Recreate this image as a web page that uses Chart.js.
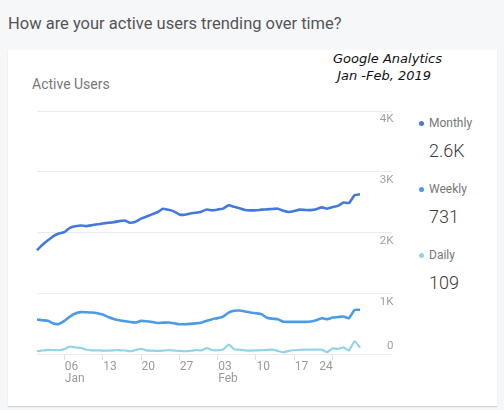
<!DOCTYPE html>
<html>
<head>
<meta charset="utf-8">
<script src="https://cdn.jsdelivr.net/npm/chart.js@4"></script>
<style>
  html, body { margin:0; padding:0; }
  body { width:504px; height:410px; overflow:hidden; position:relative; background:#f5f7f9; font-family: Roboto, "Noto Sans", sans-serif; }
  #title { position:absolute; left:8px; top:14px; font-size:16.5px; color:#555; white-space:nowrap; }
  #card { position:absolute; left:8px; top:50px; width:489px; height:356px; background:#fff; box-shadow:0 1px 1px rgba(0,0,0,0.14); }
  #sub { position:absolute; left:32px; top:76px; font-size:14px; color:#777; white-space:nowrap; }
  #note { position:absolute; left:333px; top:50px; font-family:"DejaVu Sans", sans-serif; font-style:italic; font-size:13px; line-height:17px; color:#111; white-space:nowrap; }
  #legend { position:absolute; left:0; top:0; }
  .lg-name { position:absolute; left:429px; font-size:12px; color:#777; white-space:nowrap; }
  .lg-dot { position:absolute; left:418.5px; width:5.5px; height:5.5px; border-radius:50%; }
  .lg-val { position:absolute; left:429px; font-size:18px; font-weight:300; color:#3a3a3a; white-space:nowrap; }
  #wrap { position:absolute; left:0; top:0; width:504px; height:410px; }
</style>
</head>
<body>
<div id="title">How are your active users trending over time?</div>
<div id="card"></div>
<div id="sub">Active Users</div>
<div id="note">Google Analytics<br>&nbsp;Jan -Feb, 2019</div>
<div id="legend"></div>
<div id="wrap"><canvas id="c"></canvas></div>
<script>
// ---- data ----
const seriesNames = ['Monthly', 'Weekly', 'Daily'];
const seriesColors = ['#4479dc', '#4c9be6', '#92d3ea'];

const monthly = [1711,1800,1875,1944,1985,2010,2080,2105,2117,2108,2122,2138,2150,2162,2172,2190,2200,2163,2180,2230,
                 2265,2300,2335,2392,2375,2350,2300,2294,2315,2328,2345,2380,2367,2380,2395,2450,2425,2400,2372,2367,
                 2367,2378,2383,2390,2394,2360,2340,2355,2378,2372,2370,2385,2415,2394,2420,2440,2494,2489,2615,2630];
const weekly  = [572,560,550,505,500,550,620,670,694,692,688,676,655,612,582,560,545,530,522,550,
                 542,530,515,520,522,510,494,494,500,508,520,550,578,595,620,685,715,720,705,688,
                 675,661,600,585,575,535,533,533,533,533,538,558,594,578,604,612,622,594,728,731];
const daily   = [50,62,72,70,67,85,128,112,106,75,65,65,62,60,65,70,62,50,70,90,
                 65,60,56,60,67,62,55,50,58,68,65,100,70,67,78,158,85,75,65,61,
                 63,67,72,78,55,33,55,67,72,78,78,78,78,35,98,90,115,62,215,109];

// categories: one per day, 1 Jan 2019 .. 1 Mar 2019
const days = [];
for (let i = 0; i < monthly.length; i++) {
  const d = new Date(Date.UTC(2019, 0, 1 + i));
  days.push(d.toISOString().slice(0, 10));
}

// x tick labels (category index -> text)
const xTickIndex = [5, 12, 19, 26, 33, 40, 47, 54];
const xTickText  = ['06', '13', '20', '27', '03', '10', '17', '24'];
const xTickMonth = ['Jan', '', '', '', 'Feb', '', '', ''];

// y tick labels
const yTickValues = [0, 1000, 2000, 3000, 4000];
const yTickText   = ['0', '1K', '2K', '3K', '4K'];

// ---- legend (HTML) ----
const fmt = v => v >= 1000 ? (v / 1000).toFixed(1) + 'K' : String(v);
const allSeries = [monthly, weekly, daily];
const legendTops = [116, 182, 248];
const legend = document.getElementById('legend');
seriesNames.forEach((name, k) => {
  const t = legendTops[k];
  const dot = document.createElement('div');
  dot.className = 'lg-dot';
  dot.style.top = (t + 4.5) + 'px';
  dot.style.background = seriesColors[k];
  legend.appendChild(dot);
  const nm = document.createElement('div');
  nm.className = 'lg-name';
  nm.style.top = t + 'px';
  nm.textContent = name;
  legend.appendChild(nm);
  const val = document.createElement('div');
  val.className = 'lg-val';
  val.style.top = (t + 24) + 'px';
  const arr = allSeries[k];
  val.textContent = fmt(arr[arr.length - 1]);
  legend.appendChild(val);
});

// ---- label plugin ----
const labelPlugin = {
  id: 'gaLabels',
  afterDraw(chart) {
    const ctx = chart.ctx;
    const xs = chart.scales.x, ys = chart.scales.y;
    const ca = chart.chartArea;
    ctx.save();
    ctx.fillStyle = '#a0a0a0';
    ctx.font = '11.5px Roboto, "Noto Sans", sans-serif';
    ctx.textAlign = 'right';
    ctx.textBaseline = 'middle';
    yTickValues.forEach((v, i) => {
      const py = ys.getPixelForValue(v);
      ctx.fillText(yTickText[i], ca.right + 33.5, v === 0 ? py - 8 : py + 8.5);
    });
    ctx.font = '12px Roboto, "Noto Sans", sans-serif';
    ctx.fillStyle = '#9a9a9a';
    ctx.textBaseline = 'alphabetic';
    xTickIndex.forEach((idx, i) => {
      const px = xs.getPixelForValue(idx);
      const last = i === xTickIndex.length - 1;
      ctx.textAlign = last ? 'right' : 'left';
      const x0 = last ? px : px + 0.5;
      ctx.fillText(xTickText[i], x0, ca.bottom + 15.5);
      if (xTickMonth[i]) ctx.fillText(xTickMonth[i], x0, ca.bottom + 27.5);
    });
    ctx.restore();
  }
};

new Chart(document.getElementById('c'), {
  type: 'line',
  data: {
    labels: days,
    datasets: allSeries.map((arr, k) => ({
      label: seriesNames[k],
      data: arr,
      borderColor: seriesColors[k],
      backgroundColor: seriesColors[k],
      borderWidth: k === 2 ? 2.2 : 2.6,
      pointRadius: 0,
      tension: 0.15,
      fill: false
    }))
  },
  options: {
    responsive: true,
    maintainAspectRatio: false,
    animation: false,
    layout: { padding: { left: 37, top: 111, right: 112, bottom: 49.7 } },
    plugins: { legend: { display: false }, tooltip: { enabled: false } },
    scales: {
      x: {
        type: 'category',
        ticks: { display: false, autoSkip: false },
        border: { display: false },
        grid: {
          drawOnChartArea: false,
          drawTicks: true,
          tickLength: 6,
          color: c => xTickIndex.includes(c.index) ? '#e0e0e0' : 'rgba(0,0,0,0)'
        }
      },
      y: {
        position: 'right',
        min: 0, max: 4000,
        ticks: { display: false, stepSize: 1000 },
        border: { display: false },
        grid: { color: '#ebebeb', lineWidth: 1, drawTicks: true, tickLength: 32 }
      }
    }
  },
  plugins: [labelPlugin]
});
</script>
</body>
</html>
